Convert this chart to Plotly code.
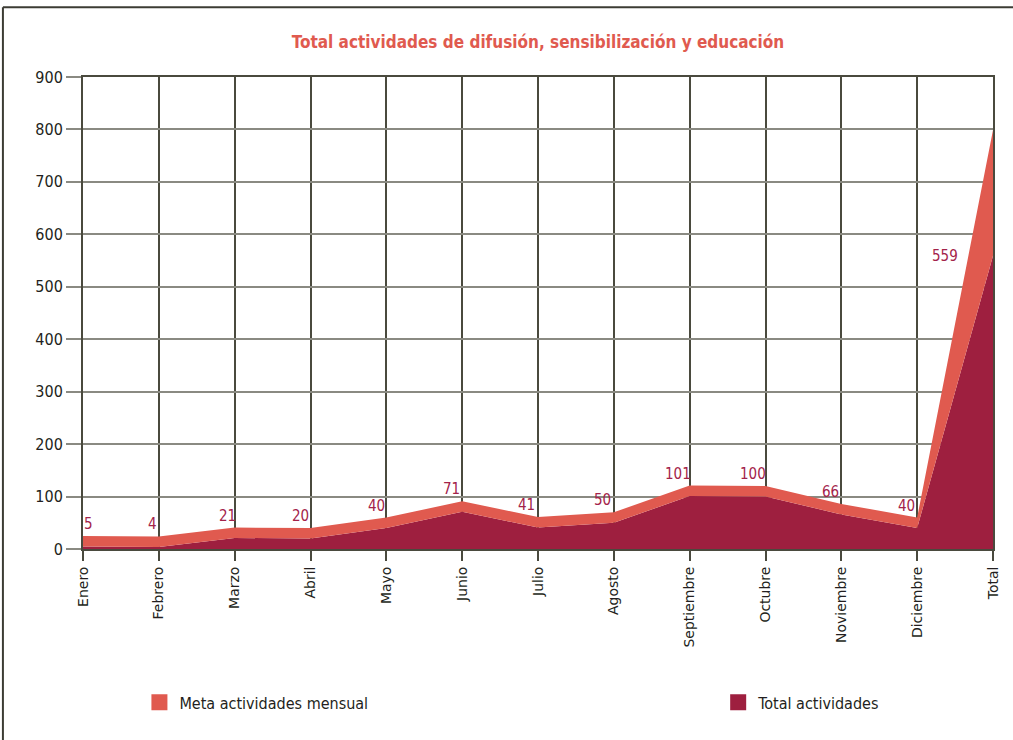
import plotly.graph_objects as go

# ======================================================
# Data
# ======================================================

meses = ["Enero", "Febrero", "Marzo", "Abril", "Mayo", "Junio", "Julio",
         "Agosto", "Septiembre", "Octubre", "Noviembre", "Diciembre", "Total"]
total_actividades = [5, 4, 21, 20, 40, 71, 41, 50, 101, 100, 66, 40, 559]
meta_mensual = [20, 20, 20, 20, 20, 20, 20, 20, 20, 20, 20, 20, 240]
y_ticks = [0, 100, 200, 300, 400, 500, 600, 700, 800, 900]

# ======================================================
# Styles
# ======================================================

c_meta = "#e05a4f"
c_total = "#9e1f3f"
c_label = "#a3234a"
c_dark = "#4a4a3e"
narrow = "DejaVu Sans Condensed, DejaVu Sans, sans-serif"

fig = go.Figure()

# stacked areas
fig.add_trace(go.Scatter(x=meses, y=total_actividades, name="Total actividades",
                         stackgroup="a", mode="none", fillcolor=c_total,
                         showlegend=False, hoverinfo="skip"))
fig.add_trace(go.Scatter(x=meses, y=meta_mensual, name="Meta actividades mensual",
                         stackgroup="a", mode="none", fillcolor=c_meta,
                         showlegend=False, hoverinfo="skip"))

# legend entries (square swatches)
fig.add_trace(go.Scatter(x=[None], y=[None], mode="markers", name="Meta actividades mensual",
                         marker=dict(symbol="square", size=17, color=c_meta), legend="legend"))
fig.add_trace(go.Scatter(x=[None], y=[None], mode="markers", name="Total actividades",
                         marker=dict(symbol="square", size=17, color=c_total), legend="legend2"))

# data labels for the total series
shifts = [5, -6, -7, -10, -10, -11, -12, -11, -12, -13, -11, -11]
for i, m in enumerate(meses[:-1]):
    fig.add_annotation(x=m, y=total_actividades[i] + meta_mensual[i], text=str(total_actividades[i]),
                       showarrow=False, yanchor="bottom", xshift=shifts[i], yshift=1,
                       font=dict(family=narrow, size=15, color=c_label))
fig.add_annotation(x=meses[-1], y=total_actividades[-1], text=str(total_actividades[-1]),
                   showarrow=False, yanchor="middle", xshift=-48,
                   font=dict(family=narrow, size=15, color=c_label))

# outer frame (top and left edge of the box)
fig.add_shape(type="line", xref="paper", yref="paper", x0=-0.088, x1=1.03,
              y0=1.148, y1=1.148, line=dict(color="#3c3c34", width=2))
fig.add_shape(type="line", xref="paper", yref="paper", x0=-0.088, x1=-0.088,
              y0=-0.41, y1=1.148, line=dict(color="#3c3c34", width=2))

fig.update_layout(
    width=1013, height=740,
    margin=dict(l=83, r=20, t=77, b=191),
    paper_bgcolor="white", plot_bgcolor="white",
    title=dict(text="<b>Total actividades de difusión, sensibilización y educación</b>",
               x=0.5, xref="paper", y=0.943, yanchor="middle",
               font=dict(family=narrow, size=17, color=c_meta)),
    legend=dict(orientation="h", x=0.062, y=-0.325, xanchor="left", yanchor="middle",
                font=dict(family=narrow, size=16, color="#231f20"), itemwidth=30),
    legend2=dict(orientation="h", x=0.698, y=-0.325, xanchor="left", yanchor="middle",
                 font=dict(family=narrow, size=16, color="#231f20"), itemwidth=30),
)

fig.update_xaxes(range=[0, 12], showgrid=True, gridcolor=c_dark, gridwidth=2,
                 tickangle=-90, ticks="outside", ticklen=10, tickwidth=2,
                 tickcolor=c_dark, showline=True, linecolor=c_dark, linewidth=2,
                 mirror=True, zeroline=False, automargin=False,
                 tickfont=dict(family="DejaVu Sans", size=14, color="#231f20"))
fig.update_yaxes(range=[0, 900], tickvals=y_ticks, showgrid=True, gridcolor="#8a8a82",
                 gridwidth=1.5, ticks="outside", ticklen=15, tickcolor="#8a8a82",
                 tickwidth=1.5, zeroline=False, showline=True, linecolor=c_dark,
                 linewidth=2, mirror=True, automargin=False,
                 tickfont=dict(family=narrow, size=16, color="#231f20"))

# page body has a default 8px margin; remove it so the figure sits at the corner
fig.write_html("out.html", config={"displayModeBar": False},
               post_script="document.body.style.margin='0';")
